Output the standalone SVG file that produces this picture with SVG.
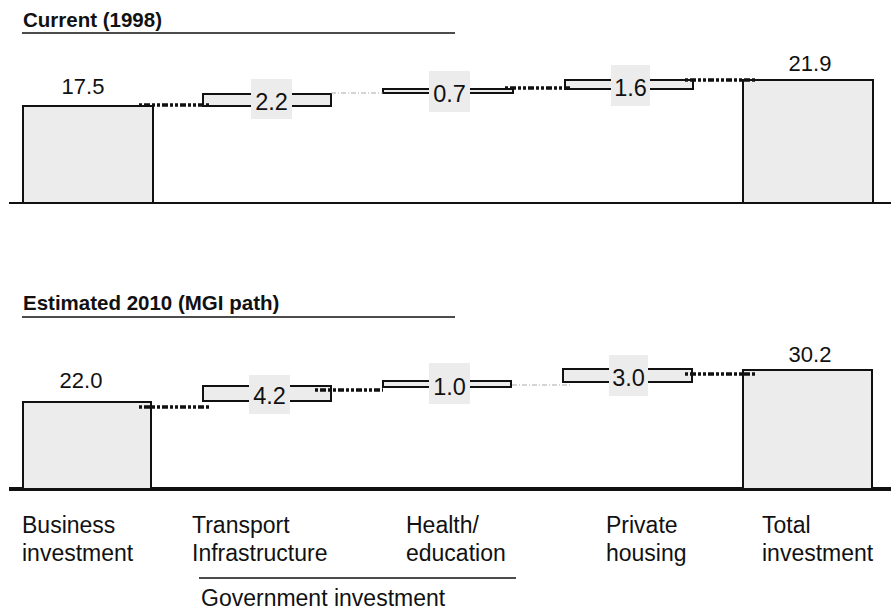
<svg xmlns="http://www.w3.org/2000/svg" width="891" height="614" viewBox="0 0 891 614">
  <style>
    .title { font-family: "Liberation Sans", Arial, sans-serif; font-size: 20.5px; font-weight: bold; fill: #111; }
    .num { font-family: "Liberation Sans", Arial, sans-serif; font-size: 22px; fill: #111; }
    .tagnum { font-family: "Liberation Sans", Arial, sans-serif; font-size: 23.5px; fill: #111; }
    .lbl { font-family: "Liberation Sans", Arial, sans-serif; font-size: 23px; fill: #111; }
    .bar { fill: #ececec; stroke: #111; stroke-width: 2; }
    .tag { fill: #ececec; stroke: none; }
    .rule { stroke: #111; stroke-width: 1.5; fill: none; }
    .link-dark { stroke: #111; stroke-width: 3.5; stroke-dasharray: 3 2 6 2 3 2; fill: none; }
    .link-light { stroke: #aaa; stroke-width: 1; stroke-dasharray: 5 2 1 2; fill: none; }
  </style>

  <!-- Panel 1: current (1998) -->
  <g id="panel-current">
    <text class="title" x="23" y="27">Current (1998)</text>
    <line class="rule" x1="22" y1="33" x2="455" y2="33"/>
    <line x1="9" y1="203" x2="891" y2="203" stroke="#111" stroke-width="2"/>
  </g>

  <g id="cur-business">
    <rect class="bar" x="23" y="106" width="130" height="97"/>
    <text class="num" x="83" y="94" text-anchor="middle">17.5</text>
  </g>
  <g id="cur-transport">
    <rect class="bar" x="203" y="94" width="128" height="12"/>
    <rect class="tag" x="251" y="79" width="41" height="40"/>
    <text class="tagnum" x="271.5" y="110" text-anchor="middle">2.2</text>
  </g>
  <g id="cur-health">
    <rect class="bar" x="383" y="89" width="130" height="4"/>
    <rect class="tag" x="429" y="71" width="41" height="41"/>
    <text class="tagnum" x="449.5" y="102" text-anchor="middle">0.7</text>
  </g>
  <g id="cur-housing">
    <rect class="bar" x="565" y="80" width="128" height="9"/>
    <rect class="tag" x="611" y="65" width="39" height="41"/>
    <text class="tagnum" x="630.5" y="96" text-anchor="middle">1.6</text>
  </g>
  <g id="cur-total">
    <rect class="bar" x="743" y="80" width="130" height="123"/>
    <text class="num" x="810" y="71" text-anchor="middle">21.9</text>
  </g>

  <g id="cur-connectors">
    <line class="link-dark" x1="139" y1="105" x2="210" y2="105"/>
    <line class="link-light" x1="331" y1="93" x2="383" y2="93"/>
    <line class="link-dark" x1="505" y1="88" x2="572" y2="88"/>
    <line class="link-dark" x1="685" y1="80" x2="756" y2="80"/>
  </g>

  <!-- Panel 2: estimated 2010 -->
  <g id="panel-2010">
    <text class="title" x="23" y="310">Estimated 2010 (MGI path)</text>
    <line class="rule" x1="22" y1="317" x2="455" y2="317"/>
    <line x1="9" y1="489" x2="891" y2="489" stroke="#111" stroke-width="4"/>
  </g>

  <g id="est-business">
    <rect class="bar" x="23" y="402" width="128" height="87"/>
    <text class="num" x="81" y="388" text-anchor="middle">22.0</text>
  </g>
  <g id="est-transport">
    <rect class="bar" x="203" y="386" width="128" height="15"/>
    <rect class="tag" x="249" y="375" width="41" height="39"/>
    <text class="tagnum" x="269.5" y="404" text-anchor="middle">4.2</text>
  </g>
  <g id="est-health">
    <rect class="bar" x="383" y="381" width="128" height="6"/>
    <rect class="tag" x="429" y="363" width="41" height="41"/>
    <text class="tagnum" x="449.5" y="395" text-anchor="middle">1.0</text>
  </g>
  <g id="est-housing">
    <rect class="bar" x="563" y="369" width="129" height="13"/>
    <rect class="tag" x="609" y="355" width="39" height="41"/>
    <text class="tagnum" x="628.5" y="386" text-anchor="middle">3.0</text>
  </g>
  <g id="est-total">
    <rect class="bar" x="743" y="370" width="129" height="119"/>
    <text class="num" x="810" y="362" text-anchor="middle">30.2</text>
  </g>

  <g id="est-connectors">
    <line class="link-dark" x1="139" y1="407" x2="210" y2="407"/>
    <line class="link-dark" x1="315" y1="390" x2="383" y2="390"/>
    <line class="link-light" x1="512" y1="385" x2="572" y2="385"/>
    <line class="link-dark" x1="685" y1="374" x2="756" y2="374"/>
  </g>

  <!-- Category labels -->
  <g id="labels">
    <text class="lbl" x="22" y="533">Business</text>
    <text class="lbl" x="22" y="561">investment</text>
    <text class="lbl" x="192" y="533">Transport</text>
    <text class="lbl" x="192" y="561">Infrastructure</text>
    <text class="lbl" x="406" y="533">Health/</text>
    <text class="lbl" x="406" y="561">education</text>
    <text class="lbl" x="606" y="533">Private</text>
    <text class="lbl" x="606" y="561">housing</text>
    <text class="lbl" x="762" y="533">Total</text>
    <text class="lbl" x="762" y="561">investment</text>
    <line class="rule" x1="199" y1="578" x2="516" y2="578"/>
    <text class="lbl" x="201" y="606">Government investment</text>
  </g>
</svg>
